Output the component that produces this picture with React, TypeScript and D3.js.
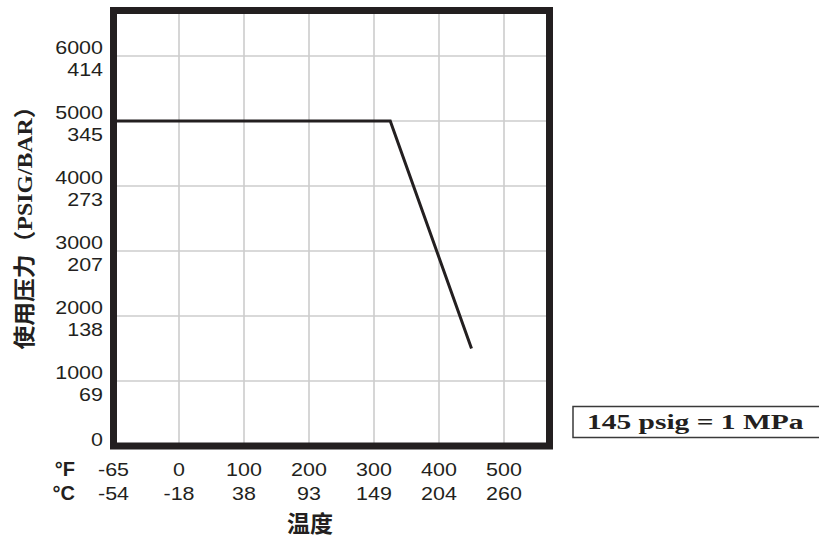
import React, { useRef, useEffect } from 'react';
import * as d3 from 'd3';

// temperature ticks (°F with °C equivalent)
const tempF = [-65, 0, 100, 200, 300, 400, 500];
const tempC = [-54, -18, 38, 93, 149, 204, 260];
// pressure ticks (psig with bar equivalent)
const pressPsig = [0, 1000, 2000, 3000, 4000, 5000, 6000];
const pressBar = [null, 69, 138, 207, 273, 345, 414];
// rating curve
const curveF = [-65, 325, 450];
const curvePsig = [5000, 5000, 1500];

const W = 819;
const H = 540;

const App: React.FC = () => {
  const svgRef = useRef<SVGSVGElement>(null);

  useEffect(() => {
    const svg = d3.select(svgRef.current);
    svg.selectAll('*').remove();

    // piecewise x: the -65 label sits on the left frame edge
    const x = d3.scaleLinear().domain([-65, 0, 570]).range([113.5, 179, 549.5]);
    const y = d3.scaleLinear().domain([0, 6700]).range([446, 10.5]);

    const [x0, x1] = [x(-65), x(570)];
    const [y0, y1] = [y(0), y(6700)];

    const sans = '"Liberation Sans", Arial, Helvetica, sans-serif';
    const serif = '"Liberation Serif", "Times New Roman", serif';
    const cjk = '"Liberation Serif", "Noto Sans CJK SC", serif';
    const ink = '#231f20';

    // grid
    const grid = svg.append('g');
    grid.selectAll('.vg')
      .data(tempF.slice(1))
      .enter()
      .append('line')
      .attr('x1', d => x(d))
      .attr('x2', d => x(d))
      .attr('y1', y1)
      .attr('y2', y0)
      .attr('stroke', '#cccccc')
      .attr('stroke-width', 1.6);
    grid.selectAll('.hg')
      .data(pressPsig.slice(1))
      .enter()
      .append('line')
      .attr('x1', x0)
      .attr('x2', x1)
      .attr('y1', d => y(d))
      .attr('y2', d => y(d))
      .attr('stroke', '#cccccc')
      .attr('stroke-width', 1.6);

    // curve
    const pts = curveF.map((f, i) => ({ f, p: curvePsig[i] }));
    const line = d3.line<{ f: number; p: number }>()
      .x(d => x(d.f))
      .y(d => y(d.p));
    svg.append('path')
      .datum(pts)
      .attr('fill', 'none')
      .attr('stroke', ink)
      .attr('stroke-width', 3)
      .attr('d', line);

    // frame
    svg.append('rect')
      .attr('x', x0)
      .attr('y', y1)
      .attr('width', x1 - x0)
      .attr('height', y0 - y1)
      .attr('fill', 'none')
      .attr('stroke', ink)
      .attr('stroke-width', 7);

    // y tick labels, stretched a little horizontally
    const yl = svg.append('g');
    pressPsig.forEach((p, i) => {
      const yy = y(p);
      const top = p === 0 ? yy : yy - 2;
      yl.append('text')
        .attr('transform', `translate(103,${top}) scale(1.13,1)`)
        .attr('text-anchor', 'end')
        .style('font-family', sans)
        .style('font-size', '19px')
        .style('fill', ink)
        .text(String(p));
      if (pressBar[i] !== null) {
        yl.append('text')
          .attr('transform', `translate(103,${yy + 20}) scale(1.13,1)`)
          .attr('text-anchor', 'end')
          .style('font-family', sans)
          .style('font-size', '19px')
          .style('fill', ink)
          .text(String(pressBar[i]));
      }
    });

    // x tick labels
    const xl = svg.append('g');
    tempF.forEach((f, i) => {
      xl.append('text')
        .attr('transform', `translate(${x(f)},476) scale(1.13,1)`)
        .attr('text-anchor', 'middle')
        .style('font-family', sans)
        .style('font-size', '19px')
        .style('fill', ink)
        .text(String(f));
      xl.append('text')
        .attr('transform', `translate(${x(f)},500) scale(1.13,1)`)
        .attr('text-anchor', 'middle')
        .style('font-family', sans)
        .style('font-size', '19px')
        .style('fill', ink)
        .text(String(tempC[i]));
    });
    ['°F', '°C'].forEach((u, i) => {
      xl.append('text')
        .attr('x', 75)
        .attr('y', 476 + i * 24)
        .attr('text-anchor', 'end')
        .style('font-family', sans)
        .style('font-size', '20px')
        .style('font-weight', 'bold')
        .style('fill', ink)
        .text(u);
    });

    // axis titles
    svg.append('text')
      .attr('x', 310)
      .attr('y', 532)
      .attr('text-anchor', 'middle')
      .style('font-family', cjk)
      .style('font-size', '23px')
      .style('font-weight', 'bold')
      .style('fill', ink)
      .text('温度');

    svg.append('text')
      .attr('transform', 'translate(32,222) rotate(-90)')
      .attr('text-anchor', 'middle')
      .attr('textLength', 255)
      .attr('lengthAdjust', 'spacingAndGlyphs')
      .style('font-family', cjk)
      .style('font-size', '22px')
      .style('font-weight', 'bold')
      .style('fill', ink)
      .text('使用压力（PSIG/BAR）');

    // conversion note
    svg.append('rect')
      .attr('x', 573)
      .attr('y', 406.5)
      .attr('width', 260)
      .attr('height', 31)
      .attr('fill', 'none')
      .attr('stroke', '#3a3a3a')
      .attr('stroke-width', 1.5);
    svg.append('text')
      .attr('transform', 'translate(587,429) scale(1.34,1)')
      .style('font-family', serif)
      .style('font-size', '22px')
      .style('font-weight', 'bold')
      .style('fill', ink)
      .text('145 psig = 1 MPa');
  }, []);

  return (
    <div style={{ position: 'absolute', left: 0, top: 0 }}>
      <svg ref={svgRef} width={W} height={H} style={{ display: 'block', background: '#fff' }} />
    </div>
  );
};

export default App;
